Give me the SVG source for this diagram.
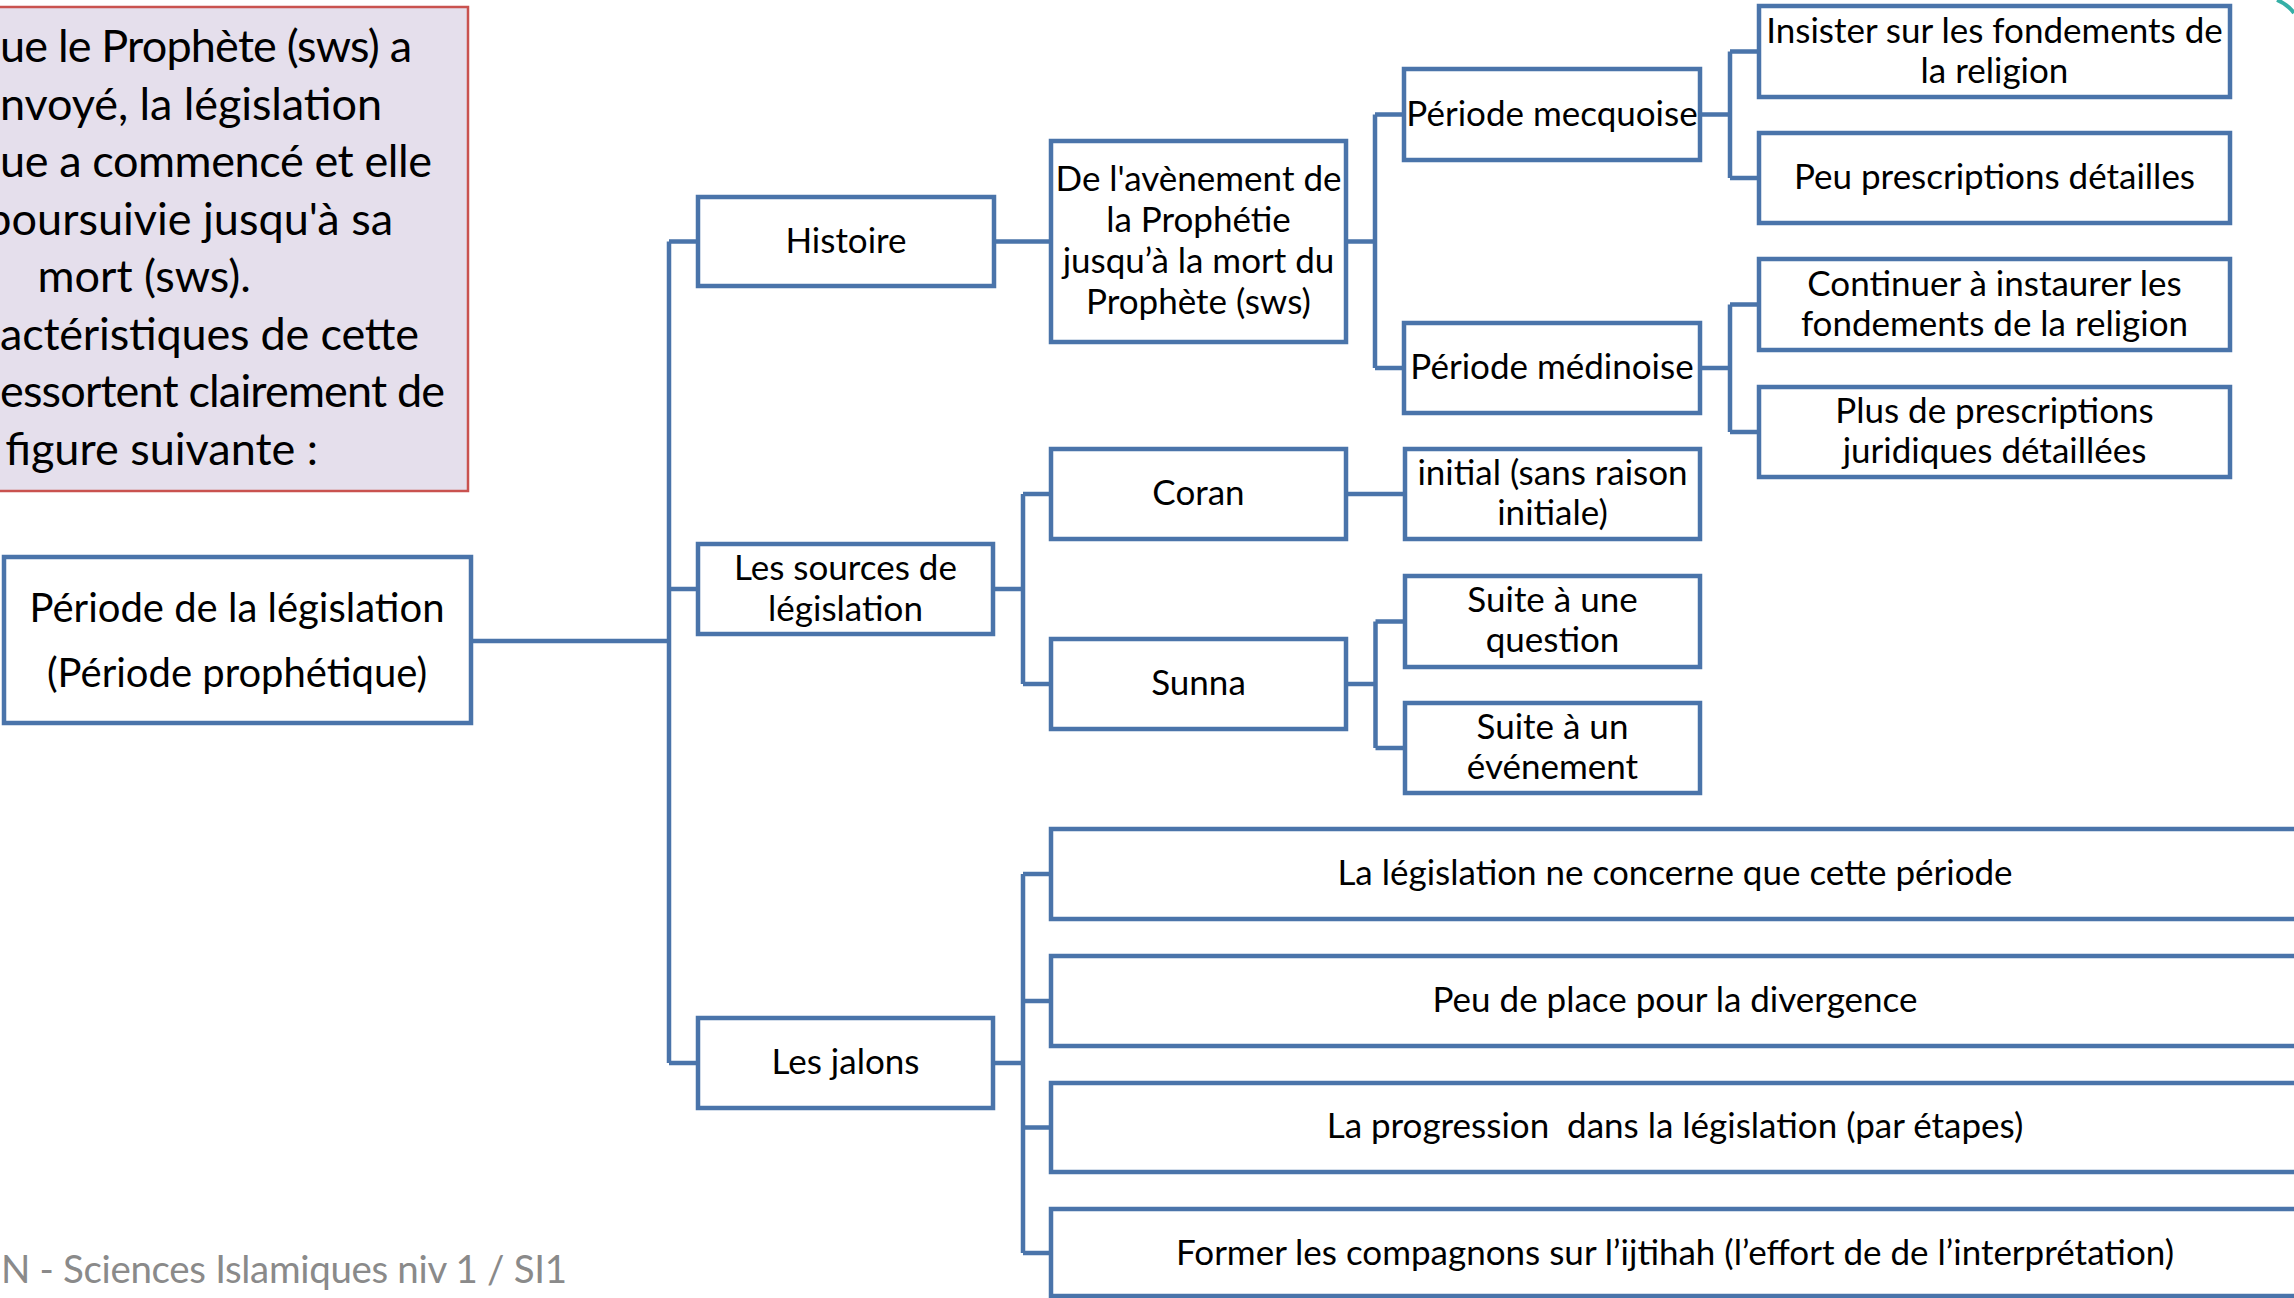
<svg xmlns="http://www.w3.org/2000/svg" width="2294" height="1298" viewBox="0 0 2294 1298">
<style>
.box{fill:#ffffff;stroke:#4A74AA;stroke-width:4.5}
.t{font-family:Lato,"Liberation Sans",sans-serif;font-size:35px;fill:#000000;text-anchor:middle}
.intro{font-family:Lato,"Liberation Sans",sans-serif;font-size:45px;fill:#000000;text-anchor:end}
.introS{font-family:Lato,"Liberation Sans",sans-serif;font-size:45px;fill:#000000;text-anchor:start}
.conn{fill:none;stroke:#4A74AA;stroke-width:4.5;stroke-linejoin:miter}
</style>
<rect x="0" y="0" width="2294" height="1298" fill="#ffffff"/>
<g id="intro">
<rect x="-190" y="7" width="658" height="484" fill="#E5DFEC" stroke="#C9524F" stroke-width="2.5"/>
<text class="introS" x="0" y="62" textLength="412" lengthAdjust="spacing">ue le Prophète (sws) a</text>
<text class="introS" x="0" y="119.5" textLength="382" lengthAdjust="spacing">nvoyé, la législation</text>
<text class="introS" x="0" y="177" textLength="432" lengthAdjust="spacing">ue a commencé et elle</text>
<text class="intro" x="393" y="234.5">poursuivie jusqu'à sa</text>
<text class="intro" x="251" y="292">mort (sws).</text>
<text class="introS" x="0" y="349.5" textLength="419" lengthAdjust="spacing">actéristiques de cette</text>
<text class="introS" x="0" y="407" textLength="445" lengthAdjust="spacing">essortent clairement de</text>
<text class="intro" x="318" y="464.5">figure suivante :</text>
</g>
<g id="connectors">
<path class="conn" d="M471,641 H669 M669,241.5 V1063 M669,241.5 H698 M669,589 H698 M669,1063 H698"/>
<path class="conn" d="M994,241.5 H1051"/>
<path class="conn" d="M993,589 H1023 M1023,494 V684 M1023,494 H1051 M1023,684 H1051"/>
<path class="conn" d="M993,1063 H1023 M1023,874 V1253 M1023,874 H1051 M1023,1001 H1051 M1023,1127.5 H1051 M1023,1253 H1051"/>
<path class="conn" d="M1346,241.5 H1375 M1375,114.5 V368 M1375,114.5 H1404 M1375,368 H1404"/>
<path class="conn" d="M1346,494 H1405"/>
<path class="conn" d="M1346,684 H1375.5 M1375.5,621.5 V748 M1375.5,621.5 H1405 M1375.5,748 H1405"/>
<path class="conn" d="M1700,114.5 H1730 M1730,51.5 V178 M1730,51.5 H1759 M1730,178 H1759"/>
<path class="conn" d="M1700,368 H1730 M1730,304.5 V432 M1730,304.5 H1759 M1730,432 H1759"/>
</g>
<g id="root">
<rect class="box" x="4" y="557" width="467" height="166"/>
<text class="t" style="font-size:40px" x="237" y="622">Période de la législation</text>
<text class="t" style="font-size:40px" x="237" y="687">(Période prophétique)</text>
</g>
<g id="histoire">
<rect class="box" x="698" y="197" width="296" height="89"/>
<text class="t" x="846" y="252.5">Histoire</text>
</g>
<g id="sources">
<rect class="box" x="698" y="544" width="295" height="90"/>
<text class="t" x="845.5" y="580">Les sources de</text>
<text class="t" x="845.5" y="621">législation</text>
</g>
<g id="jalons">
<rect class="box" x="698" y="1018" width="295" height="90"/>
<text class="t" x="845.5" y="1074">Les jalons</text>
</g>
<g id="avenement">
<rect class="box" x="1051" y="141" width="295" height="201"/>
<text class="t" x="1198.5" y="191">De l'avènement de</text>
<text class="t" x="1198.5" y="232">la Prophétie</text>
<text class="t" x="1198.5" y="273">jusqu’à la mort du</text>
<text class="t" x="1198.5" y="314">Prophète (sws)</text>
</g>
<g id="coran">
<rect class="box" x="1051" y="449" width="295" height="90"/>
<text class="t" x="1198.5" y="505">Coran</text>
</g>
<g id="sunna">
<rect class="box" x="1051" y="639" width="295" height="90"/>
<text class="t" x="1198.5" y="695">Sunna</text>
</g>
<g id="mecquoise">
<rect class="box" x="1404" y="69" width="296" height="91"/>
<text class="t" x="1552" y="126">Période mecquoise</text>
</g>
<g id="medinoise">
<rect class="box" x="1404" y="323" width="296" height="90"/>
<text class="t" x="1552" y="379">Période médinoise</text>
</g>
<g id="initial">
<rect class="box" x="1405" y="449" width="295" height="90"/>
<text class="t" x="1552.5" y="485">initial (sans raison</text>
<text class="t" x="1552.5" y="525">initiale)</text>
</g>
<g id="question">
<rect class="box" x="1405" y="576" width="295" height="91"/>
<text class="t" x="1552.5" y="612">Suite à une</text>
<text class="t" x="1552.5" y="652">question</text>
</g>
<g id="evenement">
<rect class="box" x="1405" y="703" width="295" height="90"/>
<text class="t" x="1552.5" y="739">Suite à un</text>
<text class="t" x="1552.5" y="779">événement</text>
</g>
<g id="insister">
<rect class="box" x="1759" y="6" width="471" height="91"/>
<text class="t" x="1994.5" y="42.5">Insister sur les fondements de</text>
<text class="t" x="1994.5" y="82.5">la religion</text>
</g>
<g id="peu-prescriptions">
<rect class="box" x="1759" y="133" width="471" height="90"/>
<text class="t" x="1994.5" y="189">Peu prescriptions détailles</text>
</g>
<g id="continuer">
<rect class="box" x="1759" y="259" width="471" height="91"/>
<text class="t" x="1994.5" y="295.5">Continuer à instaurer les</text>
<text class="t" x="1994.5" y="335.5">fondements de la religion</text>
</g>
<g id="plus-prescriptions">
<rect class="box" x="1759" y="387" width="471" height="90"/>
<text class="t" x="1994.5" y="423">Plus de prescriptions</text>
<text class="t" x="1994.5" y="463">juridiques détaillées</text>
</g>
<g id="jalon1">
<rect class="box" x="1051" y="829" width="1249" height="90"/>
<text class="t" x="1675" y="885">La législation ne concerne que cette période</text>
</g>
<g id="jalon2">
<rect class="box" x="1051" y="956" width="1249" height="90"/>
<text class="t" x="1675" y="1012">Peu de place pour la divergence</text>
</g>
<g id="jalon3">
<rect class="box" x="1051" y="1083" width="1249" height="89"/>
<text class="t" x="1675" y="1138" xml:space="preserve">La progression  dans la législation (par étapes)</text>
</g>
<g id="jalon4">
<rect class="box" x="1051" y="1209" width="1249" height="87"/>
<text class="t" x="1675" y="1265">Former les compagnons sur l’ijtihah (l’effort de de l’interprétation)</text>
</g>
<text x="1" y="1283" font-family="Lato, 'Liberation Sans', sans-serif" font-size="38.5" fill="#8A8A8A" text-anchor="start" textLength="566" lengthAdjust="spacing">N - Sciences Islamiques niv 1 / SI1</text>
<path d="M2277,0 Q2287,4 2294,13" fill="none" stroke="#35AFA6" stroke-width="4"/>
</svg>
